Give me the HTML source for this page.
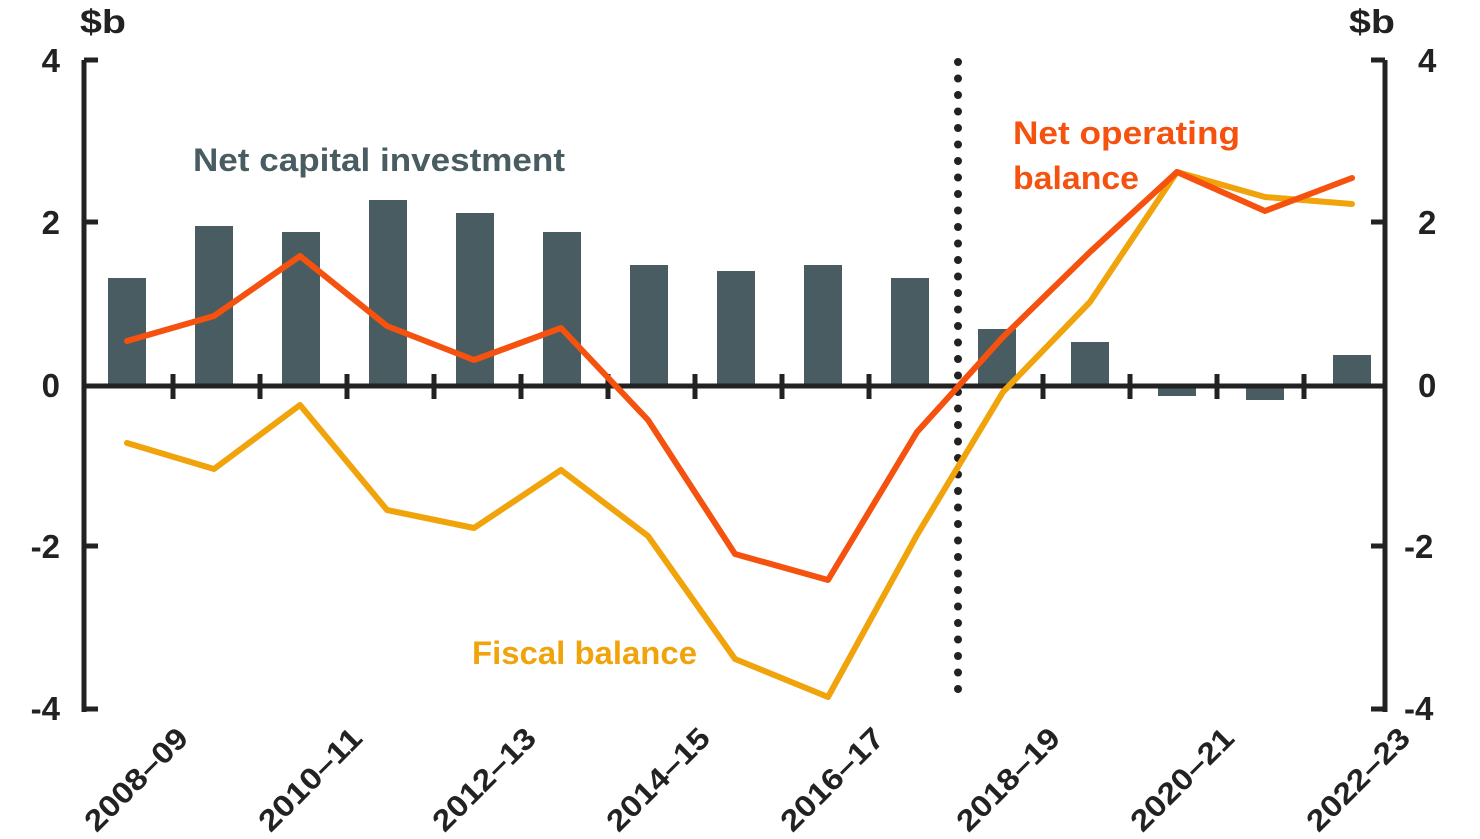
<!DOCTYPE html>
<html><head><style>body{margin:0;background:#fff}</style></head><body>
<svg width="1480" height="834" viewBox="0 0 1480 834" xmlns="http://www.w3.org/2000/svg" font-family="Liberation Sans, sans-serif" font-weight="bold">
<g fill="#485c61">
<rect x="108" y="278" width="38" height="108"/>
<rect x="195" y="226" width="38" height="160"/>
<rect x="282" y="232" width="38" height="154"/>
<rect x="369" y="200" width="38" height="186"/>
<rect x="456" y="213" width="38" height="173"/>
<rect x="543" y="232" width="38" height="154"/>
<rect x="630" y="265" width="38" height="121"/>
<rect x="717" y="271" width="38" height="115"/>
<rect x="804" y="265" width="38" height="121"/>
<rect x="891" y="278" width="38" height="108"/>
<rect x="978" y="329" width="38" height="57"/>
<rect x="1071" y="342" width="38" height="44"/>
<rect x="1158" y="386" width="38" height="10"/>
<rect x="1246" y="386" width="38" height="14"/>
<rect x="1333" y="355" width="38" height="31"/>
</g>
<g stroke="#222" stroke-width="5" fill="none">
<path d="M84 60 H98 M84 60 V712 M84 222 H98 M84 546 H98 M84 709 H98"/>
<path d="M1385 60 H1371 M1385 60 V712 M1385 222 H1371 M1385 546 H1371 M1385 709 H1371"/>
<path d="M84 386 H1385"/>
<path d="M173 374V399 M260 374V399 M347 374V399 M434 374V399 M521 374V399 M608 374V399 M695 374V399 M782 374V399 M869 374V399 M1043 374V399 M1130 374V399 M1217 374V399 M1304 374V399"/>
</g>
<line x1="958" y1="62" x2="958" y2="690" stroke="#222" stroke-width="8" stroke-linecap="round" stroke-dasharray="0 16.5"/>
<polyline fill="none" stroke="#f0a30a" stroke-width="6" stroke-linejoin="round" stroke-linecap="round" points="127,443 214,469 300,405 387,510 474,528 561,470 648,536 735,659 828,697 917,535 1003,392 1090,302 1177,172 1265,197 1352,204"/>
<polyline fill="none" stroke="#f5520f" stroke-width="6" stroke-linejoin="round" stroke-linecap="round" points="127,341 214,316 300,256 387,326 474,360 561,328 648,420 735,554 828,580 917,432 1003,337 1090,252 1177,172 1265,211 1352,178"/>
<g fill="#222" font-size="33">
<text x="80" y="33" textLength="46" lengthAdjust="spacingAndGlyphs">$b</text><text x="1349" y="33" textLength="46" lengthAdjust="spacingAndGlyphs">$b</text>
<text x="60" y="72" text-anchor="end">4</text><text x="60" y="234" text-anchor="end">2</text><text x="60" y="397" text-anchor="end">0</text><text x="60" y="558" text-anchor="end">-2</text><text x="60" y="720" text-anchor="end">-4</text>
<text x="1418" y="72">4</text><text x="1418" y="234">2</text><text x="1418" y="397">0</text><text x="1404" y="558">-2</text><text x="1404" y="720">-4</text>
</g>
<g fill="#222" font-size="30" text-anchor="end">
<text transform="translate(190,740) rotate(-45)" textLength="132" lengthAdjust="spacingAndGlyphs">2008–09</text>
<text transform="translate(364,740) rotate(-45)" textLength="132" lengthAdjust="spacingAndGlyphs">2010–11</text>
<text transform="translate(538,740) rotate(-45)" textLength="132" lengthAdjust="spacingAndGlyphs">2012–13</text>
<text transform="translate(712,740) rotate(-45)" textLength="132" lengthAdjust="spacingAndGlyphs">2014–15</text>
<text transform="translate(886,740) rotate(-45)" textLength="132" lengthAdjust="spacingAndGlyphs">2016–17</text>
<text transform="translate(1062,740) rotate(-45)" textLength="132" lengthAdjust="spacingAndGlyphs">2018–19</text>
<text transform="translate(1236,740) rotate(-45)" textLength="132" lengthAdjust="spacingAndGlyphs">2020–21</text>
<text transform="translate(1412,740) rotate(-45)" textLength="132" lengthAdjust="spacingAndGlyphs">2022–23</text>
</g>
<g font-size="32">
<text x="193" y="171" fill="#485c61" textLength="372" lengthAdjust="spacingAndGlyphs">Net capital investment</text>
<text x="1013" y="144" fill="#f5520f" textLength="227" lengthAdjust="spacingAndGlyphs">Net operating</text>
<text x="1013" y="189" fill="#f5520f" textLength="126" lengthAdjust="spacingAndGlyphs">balance</text>
<text x="472" y="664" fill="#f0a30a" textLength="225" lengthAdjust="spacingAndGlyphs">Fiscal balance</text>
</g>
</svg>
</body></html>
